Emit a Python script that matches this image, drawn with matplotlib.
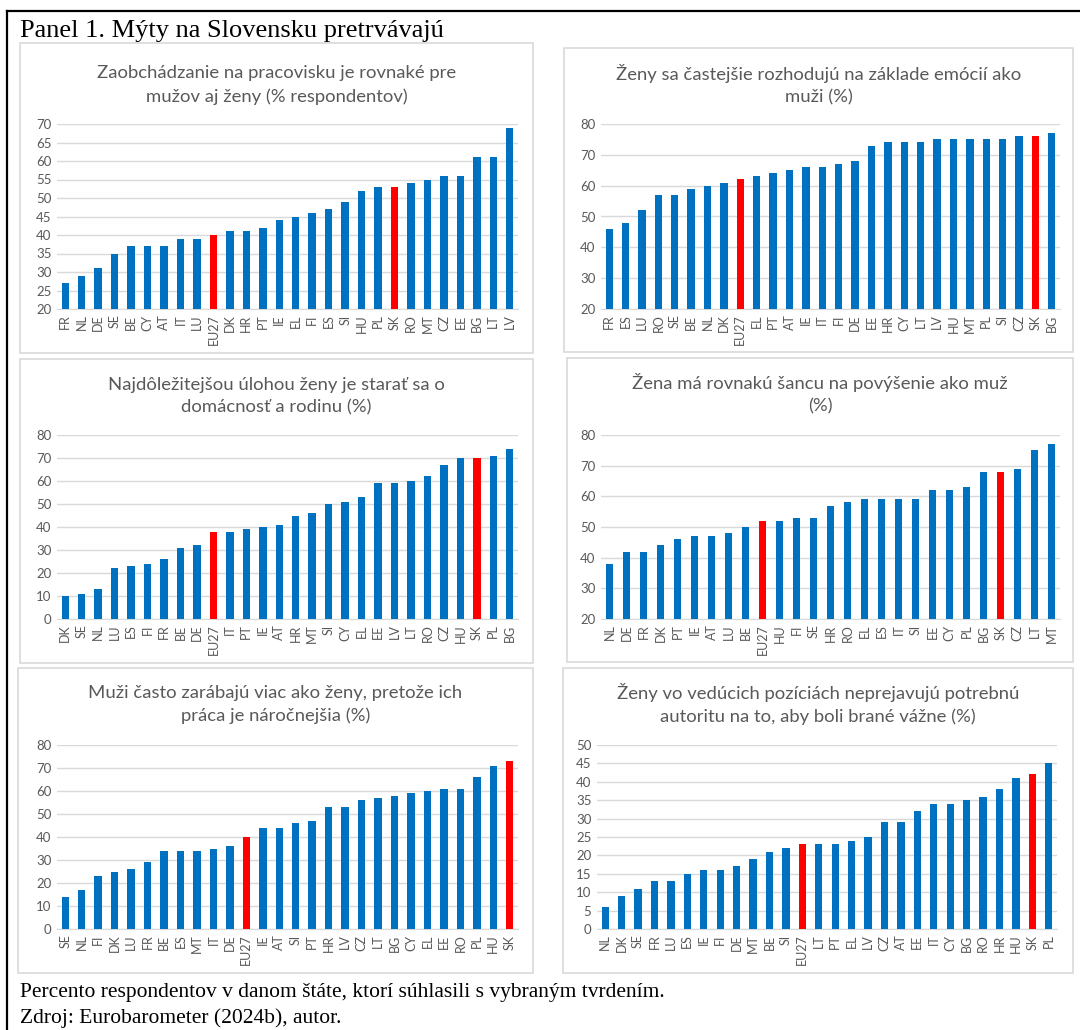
''' Panel 1. Myty na Slovensku pretrvavaju - Eurobarometer 2024b '''

import matplotlib.pyplot as plt
from matplotlib.patches import Rectangle
from matplotlib.lines import Line2D

W, H = 1080, 1030

# --- data ---
c1 = ['FR', 'NL', 'DE', 'SE', 'BE', 'CY', 'AT', 'IT', 'LU', 'EU27', 'DK', 'HR', 'PT', 'IE',
      'EL', 'FI', 'ES', 'SI', 'HU', 'PL', 'SK', 'RO', 'MT', 'CZ', 'EE', 'BG', 'LT', 'LV']
v1 = [27, 29, 31, 35, 37, 37, 37, 39, 39, 40, 41, 41, 42, 44,
      45, 46, 47, 49, 52, 53, 53, 54, 55, 56, 56, 61, 61, 69]

c2 = ['FR', 'ES', 'LU', 'RO', 'SE', 'BE', 'NL', 'DK', 'EU27', 'EL', 'PT', 'AT', 'IE', 'IT',
      'FI', 'DE', 'EE', 'HR', 'CY', 'LT', 'LV', 'HU', 'MT', 'PL', 'SI', 'CZ', 'SK', 'BG']
v2 = [46, 48, 52, 57, 57, 59, 60, 61, 62, 63, 64, 65, 66, 66,
      67, 68, 73, 74, 74, 74, 75, 75, 75, 75, 75, 76, 76, 77]

c3 = ['DK', 'SE', 'NL', 'LU', 'ES', 'FI', 'FR', 'BE', 'DE', 'EU27', 'IT', 'PT', 'IE', 'AT',
      'HR', 'MT', 'SI', 'CY', 'EL', 'EE', 'LV', 'LT', 'RO', 'CZ', 'HU', 'SK', 'PL', 'BG']
v3 = [10, 11, 13, 22, 23, 24, 26, 31, 32, 38, 38, 39, 40, 41,
      45, 46, 50, 51, 53, 59, 59, 60, 62, 67, 70, 70, 71, 74]

c4 = ['NL', 'DE', 'FR', 'DK', 'PT', 'IE', 'AT', 'LU', 'BE', 'EU27', 'HU', 'FI', 'SE', 'HR',
      'RO', 'EL', 'ES', 'IT', 'SI', 'EE', 'CY', 'PL', 'BG', 'SK', 'CZ', 'LT', 'MT']
v4 = [38, 42, 42, 44, 46, 47, 47, 48, 50, 52, 52, 53, 53, 57,
      58, 59, 59, 59, 59, 62, 62, 63, 68, 68, 69, 75, 77]

c5 = ['SE', 'NL', 'FI', 'DK', 'LU', 'FR', 'BE', 'ES', 'MT', 'IT', 'DE', 'EU27', 'IE', 'AT',
      'SI', 'PT', 'HR', 'LV', 'CZ', 'LT', 'BG', 'CY', 'EL', 'EE', 'RO', 'PL', 'HU', 'SK']
v5 = [14, 17, 23, 25, 26, 29, 34, 34, 34, 35, 36, 40, 44, 44,
      46, 47, 53, 53, 56, 57, 58, 59, 60, 61, 61, 66, 71, 73]

c6 = ['NL', 'DK', 'SE', 'FR', 'LU', 'ES', 'IE', 'FI', 'DE', 'MT', 'BE', 'SI', 'EU27', 'LT',
      'PT', 'EL', 'LV', 'CZ', 'AT', 'EE', 'IT', 'CY', 'BG', 'RO', 'HR', 'HU', 'SK', 'PL']
v6 = [6, 9, 11, 13, 13, 15, 16, 16, 17, 19, 21, 22, 23, 23,
      23, 24, 25, 29, 29, 32, 34, 34, 35, 36, 38, 41, 42, 45]

titles = [
    'Zaobchádzanie na pracovisku je rovnaké pre\nmužov aj ženy (% respondentov)',
    'Ženy sa častejšie rozhodujú na základe emócií ako\nmuži (%)',
    'Najdôležitejšou úlohou ženy je starať sa o\ndomácnosť a rodinu (%)',
    'Žena má rovnakú šancu na povýšenie ako muž\n(%)',
    'Muži často zarábajú viac ako ženy, pretože ich\npráca je náročnejšia (%)',
    'Ženy vo vedúcich pozíciách neprejavujú potrebnú\nautoritu na to, aby boli brané vážne (%)',
]

BLUE = '#0070C0'
RED = '#FF0000'
GREY = '#595959'

fig = plt.figure(figsize=(W / 100, H / 100), dpi=100)


def frac(x0, y0, x1, y1):
    # pixel box (top-left origin) -> figure fraction rect
    return [x0 / W, 1 - y1 / H, (x1 - x0) / W, (y1 - y0) / H]


# outer frame
fig.add_artist(Line2D([7 / W, 1.0], [1 - 11 / H, 1 - 11 / H], color='black', lw=1.6,
                      transform=fig.transFigure))
fig.add_artist(Line2D([7 / W, 7 / W], [0.0, 1 - 11 / H], color='black', lw=1.6,
                      transform=fig.transFigure))

fig.text(20 / W, 1 - 31 / H, 'Panel 1. Mýty na Slovensku pretrvávajú',
         family='Liberation Serif', fontsize=19, va='center', ha='left')
fig.text(20 / W, 1 - 992 / H, 'Percento respondentov v danom štáte, ktorí súhlasili s vybraným tvrdením.',
         family='Liberation Serif', fontsize=15.5, va='center', ha='left')
fig.text(20 / W, 1 - 1018 / H, 'Zdroj: Eurobarometer (2024b), autor.',
         family='Liberation Serif', fontsize=15.5, va='center', ha='left')

# (panel box, title centre y, axes box, ylim, ystep)
layout = [
    ((20, 43, 533, 353), 85, (57, 124, 518, 309), (20, 70), 5),
    ((564, 48, 1073, 352), 84.5, (601, 124, 1060, 309), (20, 80), 10),
    ((20, 359, 533, 663), 396.5, (57, 435, 518, 619), (0, 80), 10),
    ((567, 358, 1073, 662), 394, (601, 435, 1060, 619), (20, 80), 10),
    ((18, 668, 533, 973), 704.5, (57, 745, 518, 929), (0, 80), 10),
    ((563, 668, 1073, 973), 704, (597, 745, 1057, 929), (0, 50), 5),
]
cats = [c1, c2, c3, c4, c5, c6]
vals = [v1, v2, v3, v4, v5, v6]

for (pb, ty, ab, ylim, step), cc, vv, title in zip(layout, cats, vals, titles):
    x0, y0, x1, y1 = pb
    fig.add_artist(Rectangle((x0 / W, 1 - y1 / H), (x1 - x0) / W, (y1 - y0) / H,
                             transform=fig.transFigure, fill=False,
                             edgecolor='#D9D9D9', lw=1.2))
    fig.text((x0 + x1) / 2 / W, 1 - ty / H, title, ha='center', va='center',
             family='Lato', fontsize=13.3, color=GREY, linespacing=1.5)

    ax = fig.add_axes(frac(*ab))
    colors = [RED if c in ('EU27', 'SK') else BLUE for c in cc]
    ax.bar(range(len(cc)), vv, width=0.45, color=colors, zorder=3)
    ax.set_xlim(-0.5, len(cc) - 0.5)
    ax.set_ylim(*ylim)
    ax.set_yticks(range(ylim[0], ylim[1] + 1, step))
    ax.set_xticks(range(len(cc)))
    ax.set_xticklabels(cc, rotation=90, family='Lato', fontsize=9, color=GREY)
    for t in ax.get_yticklabels():
        t.set_family('Lato')
        t.set_fontsize(9.5)
        t.set_color(GREY)
    ax.grid(axis='y', color='#D9D9D9', lw=1, zorder=0)
    ax.tick_params(length=0, pad=4)
    for s in ['top', 'right', 'left']:
        ax.spines[s].set_visible(False)
    ax.spines['bottom'].set_color('#D9D9D9')

fig.savefig('out.png', dpi=100)
